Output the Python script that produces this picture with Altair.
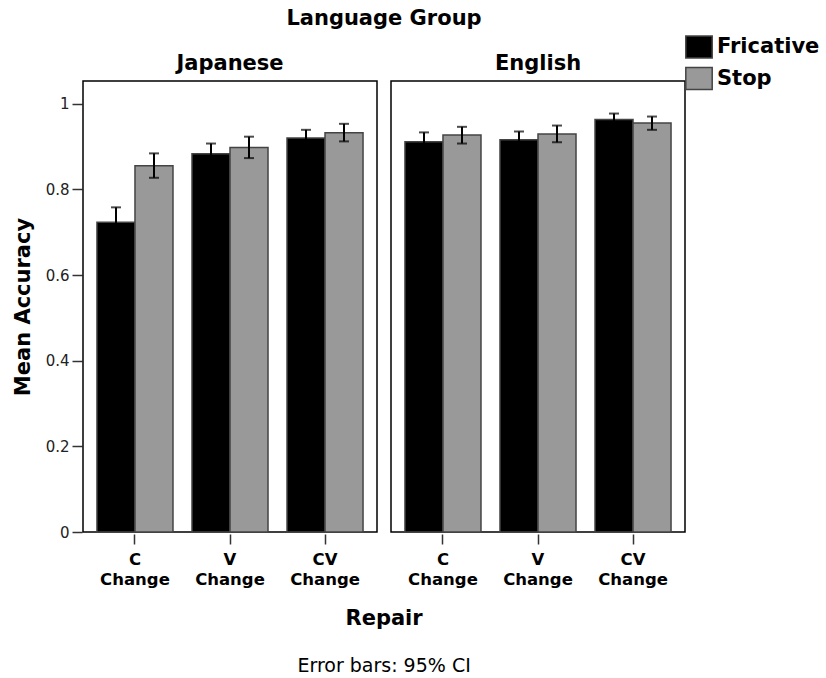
import altair as alt
import pandas as pd

repairs = ["C Change", "V Change", "CV Change"]
groups = ["Japanese", "English"]
types = ["Fricative", "Stop"]

jp_fric_mean = [0.723, 0.883, 0.920]
jp_fric_lo = [0.688, 0.859, 0.901]
jp_fric_hi = [0.758, 0.907, 0.939]
jp_stop_mean = [0.855, 0.898, 0.932]
jp_stop_lo = [0.827, 0.873, 0.912]
jp_stop_hi = [0.884, 0.923, 0.953]
en_fric_mean = [0.911, 0.916, 0.963]
en_fric_lo = [0.889, 0.897, 0.949]
en_fric_hi = [0.933, 0.935, 0.977]
en_stop_mean = [0.927, 0.929, 0.955]
en_stop_lo = [0.907, 0.910, 0.939]
en_stop_hi = [0.946, 0.949, 0.970]

series = [
    ("Japanese", "Fricative", jp_fric_mean, jp_fric_lo, jp_fric_hi),
    ("Japanese", "Stop", jp_stop_mean, jp_stop_lo, jp_stop_hi),
    ("English", "Fricative", en_fric_mean, en_fric_lo, en_fric_hi),
    ("English", "Stop", en_stop_mean, en_stop_lo, en_stop_hi),
]
rows = []
for g, t, m, lo, hi in series:
    for r, mv, lv, hv in zip(repairs, m, lo, hi):
        rows.append({"Group": g, "Type": t, "Repair": r, "Mean": mv, "Lo": lv, "Hi": hv})
df = pd.DataFrame(rows)

FONT = "DejaVu Sans"

x_enc = alt.X(
    "Repair:N",
    sort=repairs,
    scale=alt.Scale(paddingInner=0.2, paddingOuter=0.147),
    axis=alt.Axis(
        title=None,
        labelExpr="split(datum.label, ' ')",
        labelAngle=0,
        labelFont=FONT,
        labelFontSize=16.5,
        labelFontWeight="bold",
        labelColor="#000",
        labelLineHeight=20,
        labelPadding=7.5,
        tickSize=10,
        tickColor="#333",
        tickWidth=1.5,
        domain=False,
    ),
)
xo_enc = alt.XOffset("Type:N", sort=types, scale=alt.Scale(paddingInner=0, paddingOuter=0))
y_axis = alt.Axis(
    title="Mean Accuracy",
    values=[0, 0.2, 0.4, 0.6, 0.8, 1],
    format=".1~f",
    grid=False,
    labelFont=FONT,
    labelFontSize=15,
    labelColor="#222",
    labelPadding=3,
    tickSize=10,
    tickColor="#333",
    tickWidth=1.5,
    domain=False,
    titleFont=FONT,
    titleFontSize=21,
    titleFontWeight="bold",
    titleColor="#000",
    titlePadding=12,
)

bars = alt.Chart().mark_bar(stroke="#444", strokeWidth=1.5).encode(
    x=x_enc,
    xOffset=xo_enc,
    y=alt.Y("Mean:Q", scale=alt.Scale(domain=[0, 1.053], nice=False), axis=y_axis),
    color=alt.Color(
        "Type:N",
        scale=alt.Scale(domain=types, range=["#000000", "#999999"]),
        legend=alt.Legend(
            title=None,
            orient="none",
            legendX=604,
            legendY=-46,
            symbolType="M-1.2,-1H1.2V1H-1.2Z",
            symbolSize=484,
            symbolStrokeColor="#444",
            symbolStrokeWidth=1.5,
            symbolOpacity=1,
            labelFont=FONT,
            labelFontSize=21,
            labelFontWeight="bold",
            labelColor="#000",
            labelOffset=6,
            rowPadding=3.5,
        ),
    ),
)
rules = alt.Chart().mark_rule(color="#000", strokeWidth=2).encode(
    x=x_enc, xOffset=xo_enc, y="Lo:Q", y2="Hi:Q"
)
caps_hi = alt.Chart().mark_tick(color="#000", size=10, thickness=2).encode(
    x=x_enc, xOffset=xo_enc, y="Hi:Q"
)
caps_lo = alt.Chart().mark_tick(color="#000", size=10, thickness=2).encode(
    x=x_enc, xOffset=xo_enc, y="Lo:Q"
)

layered = alt.layer(bars, rules, caps_hi, caps_lo, data=df).properties(width=294, height=451)

chart = layered.facet(
    column=alt.Column(
        "Group:N",
        sort=groups,
        title="Language Group",
        header=alt.Header(
            labelFont=FONT,
            labelFontSize=21,
            labelFontWeight="bold",
            labelColor="#000",
            labelPadding=6,
            titleFont=FONT,
            titleFontSize=21,
            titleFontWeight="bold",
            titleColor="#000",
            titlePadding=14,
        ),
    ),
    spacing=12,
).properties(
    title=alt.Title(
        "Repair",
        orient="bottom",
        anchor="middle",
        subtitle="Error bars: 95% CI",
        font=FONT,
        fontSize=21,
        fontWeight="bold",
        color="#000",
        subtitleFont=FONT,
        subtitleFontSize=19,
        subtitleColor="#000",
        subtitlePadding=28,
        offset=20,
        dx=-32,
    ),
    padding={"left": 12, "top": 8, "right": 4, "bottom": 4},
).configure_view(
    stroke="#000", strokeWidth=1.5
)

chart.save("out.html", embed_options={"renderer": "svg", "actions": False})
